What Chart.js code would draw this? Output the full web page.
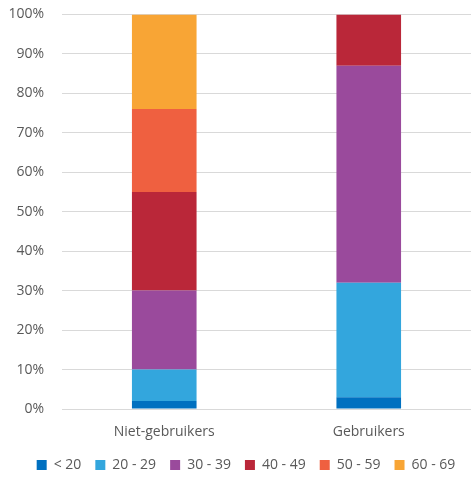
<!DOCTYPE html>
<html>
<head>
<meta charset="utf-8">
<script src="https://cdn.jsdelivr.net/npm/chart.js@4"></script>
<style>
  html, body { margin: 0; padding: 0; background: #fff; }
</style>
</head>
<body>
<canvas id="age-chart" width="471" height="478"></canvas>
<script>
// categories and series (percent of group)
var categories = ['Niet-gebruikers', 'Gebruikers'];
var seriesLabels = ['< 20', '20 - 29', '30 - 39', '40 - 49', '50 - 59', '60 - 69'];
var under20   = [2, 3];
var age20_29  = [8, 29];
var age30_39  = [20, 55];
var age40_49  = [25, 13];
var age50_59  = [21, 0];
var age60_69  = [24, 0];
var seriesColors = ['#0070C0', '#33A6DD', '#9A4A9C', '#BA2739', '#EF6040', '#F8A535'];

var allValues = [under20, age20_29, age30_39, age40_49, age50_59, age60_69];
var aDatasets = [];
for (var i = 0; i < seriesLabels.length; i++) {
	aDatasets.push({
		label: seriesLabels[i],
		backgroundColor: seriesColors[i],
		borderWidth: 0,
		data: allValues[i]
	});
}

// nudge the legend a bit to the right, like the original
var legendShift = {
	id: 'legendShift',
	afterLayout: function(chart) {
		chart.legend.left += 7;
		chart.legend.right += 7;
	}
};

var ctx = document.getElementById('age-chart');
var cfg = {
	type: 'bar',
	data: { labels: categories, datasets: aDatasets },
	plugins: [legendShift],
	options: {
		responsive: false,
		animation: false,
		layout: { padding: { top: 0, right: -3, left: 4, bottom: -4 } },
		datasets: { bar: { categoryPercentage: 1.0, barPercentage: 0.316 } },
		plugins: {
			legend: {
				position: 'bottom',
				labels: {
					boxWidth: 10, boxHeight: 10, padding: 14,
					color: '#595959',
					font: { family: 'Open Sans', size: 14 }
				}
			},
			tooltip: { enabled: false }
		},
		scales: {
			x: {
				stacked: true,
				grid: { display: false, drawTicks: false },
				border: { color: '#d9d9d9' },
				ticks: { color: '#595959', font: { family: 'Open Sans', size: 14 }, padding: 15 },
				afterFit: function(s) { s.height = 35; }
			},
			y: {
				stacked: true,
				min: 0, max: 100,
				grid: { color: '#d9d9d9', drawTicks: true, tickLength: 12, tickColor: 'rgba(0,0,0,0)' },
				border: { display: false },
				ticks: {
					stepSize: 10,
					padding: 6,
					color: '#595959',
					font: { family: 'Open Sans', size: 14 },
					callback: function(v) { return v + '%'; }
				},
				afterFit: function(s) { s.width = 58; }
			}
		}
	}
};
new Chart(ctx, cfg);
</script>
</body>
</html>
